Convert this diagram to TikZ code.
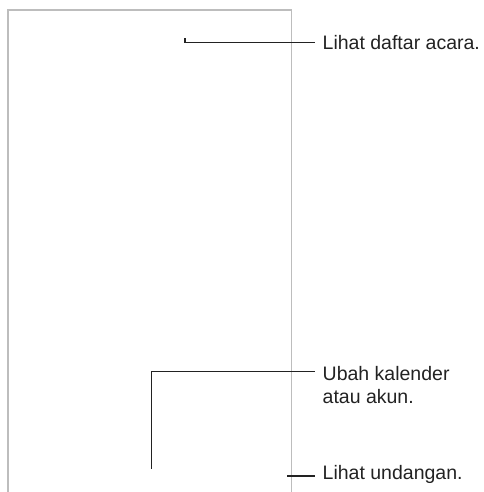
\documentclass[tikz,border=0pt]{standalone}
\usepackage{fontspec}
\setmainfont{Liberation Sans}
\definecolor{frame}{HTML}{BDBDBD}
\definecolor{ink}{HTML}{222222}
\begin{document}
\begin{tikzpicture}[x=1pt,y=1pt,
  lbl/.style={inner sep=0pt, text=ink, font=\fontsize{19.5}{23}\selectfont, align=left},
  callout/.style={draw=ink, line width=1.1pt},
  phone/.style={draw=frame, line width=1.3pt}]
\useasboundingbox (0,0) rectangle (483,492);
% phone outline (open at bottom)
\draw[phone] (8,-2) -- (8,482) -- (291.5,482) -- (291.5,-2);
% callout 1
\coordinate (a0) at (185,453.5);
\coordinate (a1) at (185,449.3);
\coordinate (a2) at (315,449.3);
\node[lbl, anchor=base west] (ta) at (322.5,442) {Lihat daftar acara.};
\draw[callout] (a0) -- (a1) -- (a2);
% callout 2
\coordinate (b0) at (151.7,23);
\coordinate (b1) at (151.7,120.3);
\coordinate (b2) at (315,120.3);
\node[lbl, anchor=base west] (tb) at (322.5,111) {Ubah kalender};
\node[lbl, anchor=base west] (tb2) at (322.5,88) {atau akun.};
\draw[callout] (b0) -- (b1) -- (b2);
% callout 3
\coordinate (c0) at (287,16);
\coordinate (c1) at (315,16);
\node[lbl, anchor=base west] (tc) at (322.5,12.5) {Lihat undangan.};
\draw[callout] (c0) -- (c1);
\end{tikzpicture}
\end{document}
